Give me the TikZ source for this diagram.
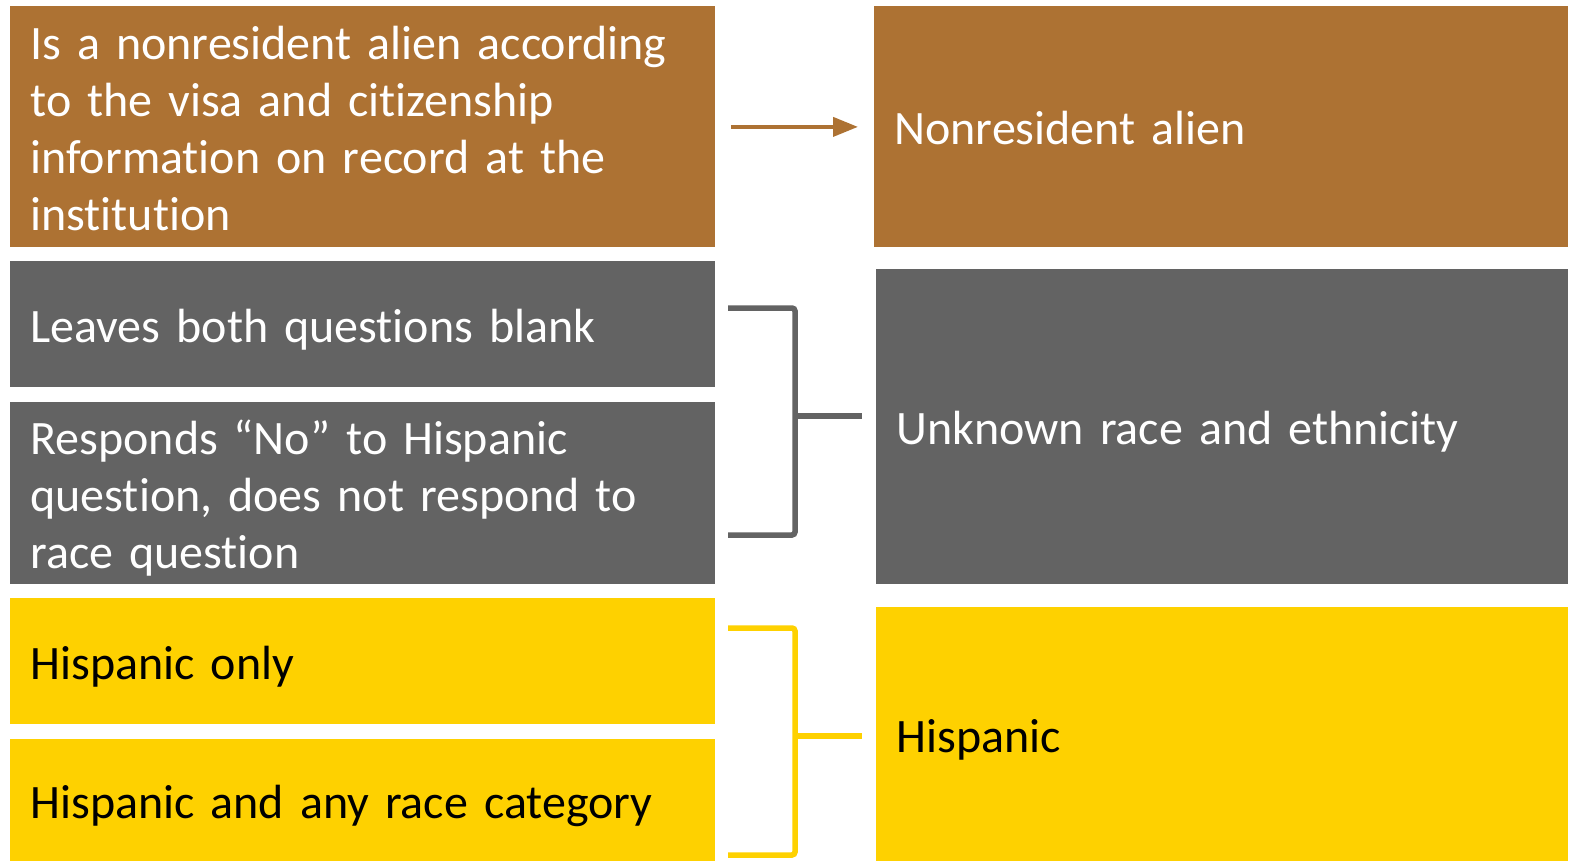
\documentclass[tikz,border=0pt]{standalone}
\usepackage{fontspec}
\setmainfont{Carlito}[Ligatures=NoCommon, WordSpace=0.75]
\usetikzlibrary{arrows.meta}

\definecolor{nrabrown}{HTML}{AD7233}
\definecolor{unkgray}{HTML}{636363}
\definecolor{hispyellow}{HTML}{FED100}

\newcommand{\linestrut}{\rule[-5.25pt]{0pt}{28.5pt}}

\tikzset{
    leftbox/.style={anchor=north west, inner xsep=10pt, inner ysep=0pt, text width=332.5pt, align=left, font=\fontsize{24}{28.5}\selectfont, execute at begin node=\linestrut, execute at end node=\linestrut},
    rightbox/.style={leftbox, text width=326pt},
    bracket/.style={line width=2.75pt, rounded corners=1.5pt},
}

\begin{document}
\begin{tikzpicture}[x=0.5pt, y=-0.5pt]
        \useasboundingbox (0,0) rectangle (1573,861);

        % left column
        \node[leftbox, fill=nrabrown, text=white, minimum height=120.5pt] (visa) at (10,6) {Is a nonresident alien according\\to the visa and citizenship\\information on record at the\\institution};
        \node[leftbox, fill=unkgray, text=white, minimum height=63pt] (blank) at (10,261) {Leaves both questions blank};
        \node[leftbox, fill=unkgray, text=white, minimum height=91pt] (norace) at (10,402) {Responds “No” to Hispanic\\question, does not respond to\\race question};
        \node[leftbox, fill=hispyellow, text=black, minimum height=63pt] (hisponly) at (10,598) {Hispanic only};
        \node[leftbox, fill=hispyellow, text=black, minimum height=61pt] (hispany) at (10,739) {Hispanic and any race category};

        % right column
        \node[rightbox, fill=nrabrown, text=white, text width=327pt, minimum height=120.5pt] (nra) at (874,6) {Nonresident alien};
        \node[rightbox, fill=unkgray, text=white, minimum height=157.5pt] (unknown) at (876,269) {Unknown race and ethnicity};
        \node[rightbox, fill=hispyellow, text=black, minimum height=127pt] (hisp) at (876,607) {Hispanic};

        \draw[-{Triangle[length=12.5pt, width=9.5pt]}, draw=nrabrown, fill=nrabrown, line width=2pt, shorten <=7.5pt, shorten >=8pt] (visa) -- (nra);

        \coordinate (gtop) at (728,308);
        \coordinate (gbot) at (728,535);
        \coordinate (gmid) at (795,416);
        \draw[bracket, draw=unkgray] (gtop) -- (gtop -| gmid) -- (gbot -| gmid) -- (gbot);
        \draw[bracket, draw=unkgray, rounded corners=0pt, shorten >=7pt] (gmid) -- (unknown.west |- gmid);

        \coordinate (ytop) at (728,628);
        \coordinate (ybot) at (728,855);
        \coordinate (ymid) at (795,736);
        \draw[bracket, draw=hispyellow] (ytop) -- (ytop -| ymid) -- (ybot -| ymid) -- (ybot);
        \draw[bracket, draw=hispyellow, rounded corners=0pt, shorten >=7pt] (ymid) -- (hisp.west |- ymid);
    \end{tikzpicture}
\end{document}
